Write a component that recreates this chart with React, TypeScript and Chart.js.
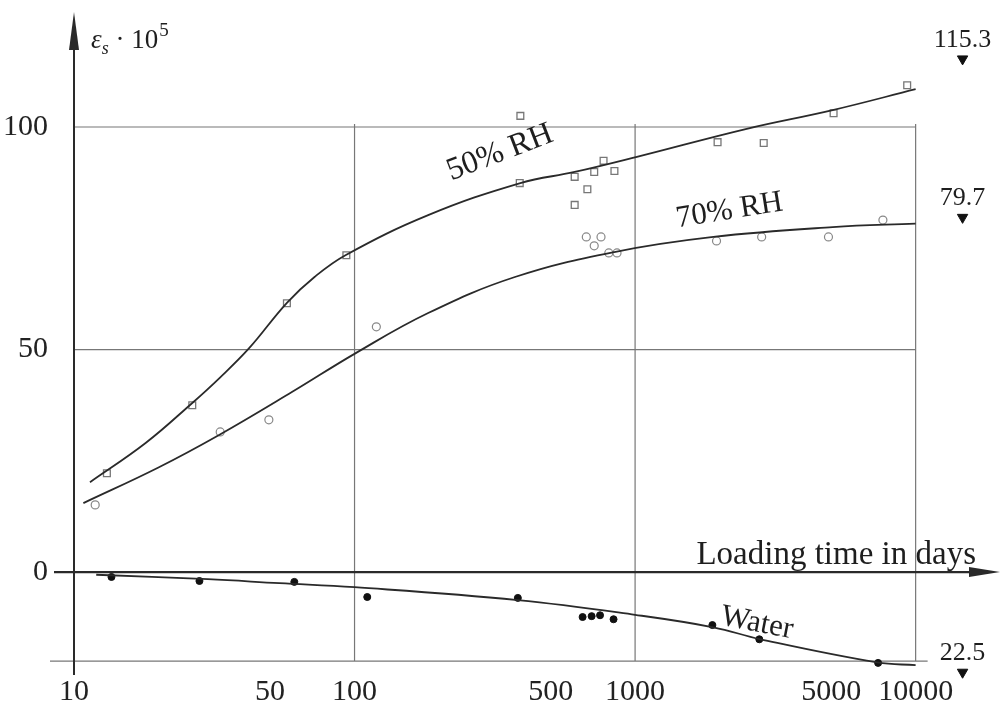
import React, { useEffect, useRef } from 'react';
import { Chart, registerables } from 'chart.js';

Chart.register(...registerables);

const SERIF = '"Liberation Serif", "Times New Roman", serif';

// Axis ticks
const DAY_TICKS = [10, 50, 100, 500, 1000, 5000, 10000];
const STRAIN_TICKS = [0, 50, 100];
const GRID_DAYS = [100, 1000, 10000];
const GRID_STRAINS = [100, 50, -20];

// Fitted creep curves (loading time in days, strain x 10^5)
const curve50Days = [11.4, 18, 26.4, 33, 42.1, 57.4, 72, 92.8, 183, 390, 609, 1015, 2500, 5060, 10000];
const curve50Strain = [20.2, 29, 38, 43.6, 50.3, 60.5, 66.3, 71.2, 80.2, 87.4, 89.9, 93.3, 99.6, 103.8, 108.5];

const curve70Days = [10.8, 20, 32.9, 60, 101, 183, 373, 843, 1902, 5060, 10000];
const curve70Strain = [15.5, 23.5, 30.8, 40.5, 49.2, 58.2, 66.3, 71.9, 75.3, 77.5, 78.3];

const curveWaterDays = [12, 30, 54, 100, 382, 1000, 1900, 2800, 7300, 10000];
const curveWaterStrain = [-0.6, -1.6, -2.5, -3.4, -6.3, -9.6, -12.4, -15.1, -20.3, -20.9];

// Measured values
const obs50Days = [13.1, 26.4, 57.4, 93.5, 390, 388, 609, 609, 676, 715, 772, 844, 1968, 2874, 5100, 9330];
const obs50Strain = [22.2, 37.5, 60.4, 71.2, 102.5, 87.4, 82.5, 88.8, 86.0, 89.9, 92.4, 90.1, 96.6, 96.4, 103.1, 109.4];

const obs70Days = [11.9, 33.2, 49.5, 119.6, 670, 715, 756, 806, 862, 1951, 2826, 4890, 7645];
const obs70Strain = [15.1, 31.5, 34.2, 55.1, 75.3, 73.3, 75.3, 71.7, 71.7, 74.4, 75.3, 75.3, 79.1];

const obsWaterDays = [13.6, 28, 61, 111, 382, 650, 700, 750, 838, 1886, 2772, 7349];
const obsWaterStrain = [-1.1, -2.0, -2.2, -5.6, -5.8, -10.1, -9.9, -9.7, -10.6, -11.9, -15.1, -20.4];

// Final (ultimate) values marked at the right edge
const finalDays = [14700, 14700, 14700];
const finalStrain = [115.3, 79.7, -22.5];
const finalLabels = ['115.3', '79.7', '22.5'];

// Curve captions: [text, day, strain, angle in degrees, font size]
const captions: [string, number, number, number, number][] = [
  ['50% RH', 330, 94.2, -21, 32],
  ['70% RH', 2170, 81.2, -9, 31],
  ['Water', 2720, -11.5, 11, 31],
];

const pts = (xs: number[], ys: number[]) => xs.map((x, i) => ({ x, y: ys[i] }));

const INK = '#2a2a2a';

const frame = {
  id: 'frame',
  beforeDatasetsDraw(chart: any) {
    const { ctx, chartArea } = chart;
    const xs = chart.scales.x;
    const ys = chart.scales.y;
    const x10 = xs.getPixelForValue(10);
    const x10k = xs.getPixelForValue(10000);
    const yTop = ys.getPixelForValue(100);
    const yBot = ys.getPixelForValue(-20);
    const y0 = ys.getPixelForValue(0);
    ctx.save();
    ctx.strokeStyle = '#777';
    ctx.lineWidth = 1.2;
    GRID_STRAINS.forEach((v) => {
      const y = ys.getPixelForValue(v);
      ctx.beginPath();
      if (v === -20) {
        ctx.moveTo(x10 - 24, y);
        ctx.lineTo(x10k + 12, y);
      } else {
        ctx.moveTo(x10, y);
        ctx.lineTo(x10k, y);
      }
      ctx.stroke();
    });
    GRID_DAYS.forEach((d) => {
      const x = xs.getPixelForValue(d);
      ctx.beginPath();
      ctx.moveTo(x, yTop - 3);
      ctx.lineTo(x, yBot);
      ctx.stroke();
    });
    // axes with arrowheads
    ctx.strokeStyle = INK;
    ctx.fillStyle = INK;
    ctx.lineWidth = 2.4;
    ctx.beginPath();
    ctx.moveTo(x10 - 20, y0);
    ctx.lineTo(chartArea.right - 20, y0);
    ctx.stroke();
    ctx.beginPath();
    ctx.moveTo(chartArea.right + 3, y0);
    ctx.lineTo(chartArea.right - 28, y0 - 5);
    ctx.lineTo(chartArea.right - 28, y0 + 5);
    ctx.closePath();
    ctx.fill();
    ctx.lineWidth = 2;
    ctx.beginPath();
    ctx.moveTo(x10, yBot + 14);
    ctx.lineTo(x10, chartArea.top + 30);
    ctx.stroke();
    ctx.beginPath();
    ctx.moveTo(x10, chartArea.top);
    ctx.lineTo(x10 - 5, chartArea.top + 38);
    ctx.lineTo(x10 + 5, chartArea.top + 38);
    ctx.closePath();
    ctx.fill();
    ctx.restore();
  },
  afterDatasetsDraw(chart: any) {
    const { ctx } = chart;
    const xs = chart.scales.x;
    const ys = chart.scales.y;
    const x10 = xs.getPixelForValue(10);
    ctx.save();
    ctx.fillStyle = '#1e1e1e';
    ctx.textBaseline = 'alphabetic';

    // x axis title
    ctx.font = `33px ${SERIF}`;
    ctx.textAlign = 'right';
    ctx.fillText('Loading time in days', 976, ys.getPixelForValue(0) - 8);

    // y axis title: εs · 10^5
    ctx.textAlign = 'left';
    let x = x10 + 17;
    const base = 48;
    ctx.font = `italic 27px ${SERIF}`;
    ctx.fillText('ε', x, base);
    x += ctx.measureText('ε').width;
    ctx.font = `italic 18px ${SERIF}`;
    ctx.fillText('s', x, base + 6);
    x += ctx.measureText('s').width;
    ctx.font = `27px ${SERIF}`;
    ctx.fillText(' · 10', x, base);
    x += ctx.measureText(' · 10').width + 1;
    ctx.font = `19px ${SERIF}`;
    ctx.fillText('5', x, base - 12);

    // curve captions
    captions.forEach(([text, d, v, ang, size]) => {
      ctx.save();
      ctx.translate(xs.getPixelForValue(d), ys.getPixelForValue(v));
      ctx.rotate((ang * Math.PI) / 180);
      ctx.font = `${size}px ${SERIF}`;
      ctx.textAlign = 'center';
      ctx.textBaseline = 'middle';
      ctx.fillText(text, 0, 0);
      ctx.restore();
    });

    // final value labels
    const meta = chart.getDatasetMeta(6);
    ctx.font = `26px ${SERIF}`;
    ctx.textAlign = 'center';
    meta.data.forEach((el: any, i: number) => {
      ctx.fillText(finalLabels[i], el.x, el.y - 12);
    });
    ctx.restore();
  },
};

export default function App() {
  const ref = useRef<HTMLCanvasElement>(null);
  useEffect(() => {
    const canvas = ref.current;
    if (!canvas) return;
    const curve = (data: any) => ({
      data,
      showLine: true,
      borderColor: INK,
      borderWidth: 1.8,
      pointRadius: 0,
      tension: 0.4,
      fill: false,
    });
    const chart = new Chart(canvas, {
      type: 'scatter',
      data: {
        datasets: [
          curve(pts(curve50Days, curve50Strain)),
          curve(pts(curve70Days, curve70Strain)),
          curve(pts(curveWaterDays, curveWaterStrain)),
          {
            data: pts(obs50Days, obs50Strain),
            pointStyle: 'rect',
            pointRadius: 4.8,
            borderColor: '#777',
            backgroundColor: '#fff',
            borderWidth: 1.3,
          },
          {
            data: pts(obs70Days, obs70Strain),
            pointStyle: 'circle',
            pointRadius: 4,
            borderColor: '#888',
            backgroundColor: '#fff',
            borderWidth: 1.2,
          },
          {
            data: pts(obsWaterDays, obsWaterStrain),
            pointStyle: 'circle',
            pointRadius: 3.5,
            borderColor: '#111',
            backgroundColor: '#111',
            borderWidth: 1,
          },
          {
            data: pts(finalDays, finalStrain),
            pointStyle: 'triangle',
            rotation: 180,
            pointRadius: 6,
            borderColor: '#111',
            backgroundColor: '#111',
            borderWidth: 1,
            clip: false as any,
          },
        ] as any,
      },
      options: {
        responsive: false,
        maintainAspectRatio: false,
        animation: false,
        devicePixelRatio: 1,
        layout: { padding: { top: 12, right: 4, left: 0, bottom: 0 } },
        plugins: { legend: { display: false }, tooltip: { enabled: false } },
        scales: {
          x: {
            type: 'logarithmic',
            min: 10,
            max: 19500,
            grid: { display: false },
            border: { display: false },
            ticks: {
              font: { family: SERIF, size: 30 },
              color: '#222',
              padding: -4,
              autoSkip: false,
              maxRotation: 0,
              callback: (v: any) => String(v),
            },
            afterBuildTicks: (s: any) => {
              s.ticks = DAY_TICKS.map((value) => ({ value }));
            },
            afterFit: (s: any) => {
              s.height = 52;
              s.paddingLeft = 0;
              s.paddingRight = 0;
            },
          },
          y: {
            type: 'linear',
            min: -22,
            max: 125.84,
            grid: { display: false },
            border: { display: false },
            ticks: {
              font: { family: SERIF, size: 30 },
              color: '#222',
              padding: 18,
              callback: (v: any) => String(v),
            },
            afterBuildTicks: (s: any) => {
              s.ticks = STRAIN_TICKS.map((value) => ({ value }));
            },
            afterFit: (s: any) => {
              s.width = 74;
              s.paddingTop = 0;
              s.paddingBottom = 0;
            },
          },
        },
      },
      plugins: [frame],
    });
    return () => chart.destroy();
  }, []);
  return (
    <div style={{ position: 'fixed', left: 0, top: 0, width: 1004, height: 722, background: '#fff' }}>
      <canvas ref={ref} width={1004} height={722} style={{ display: 'block' }} />
    </div>
  );
}
